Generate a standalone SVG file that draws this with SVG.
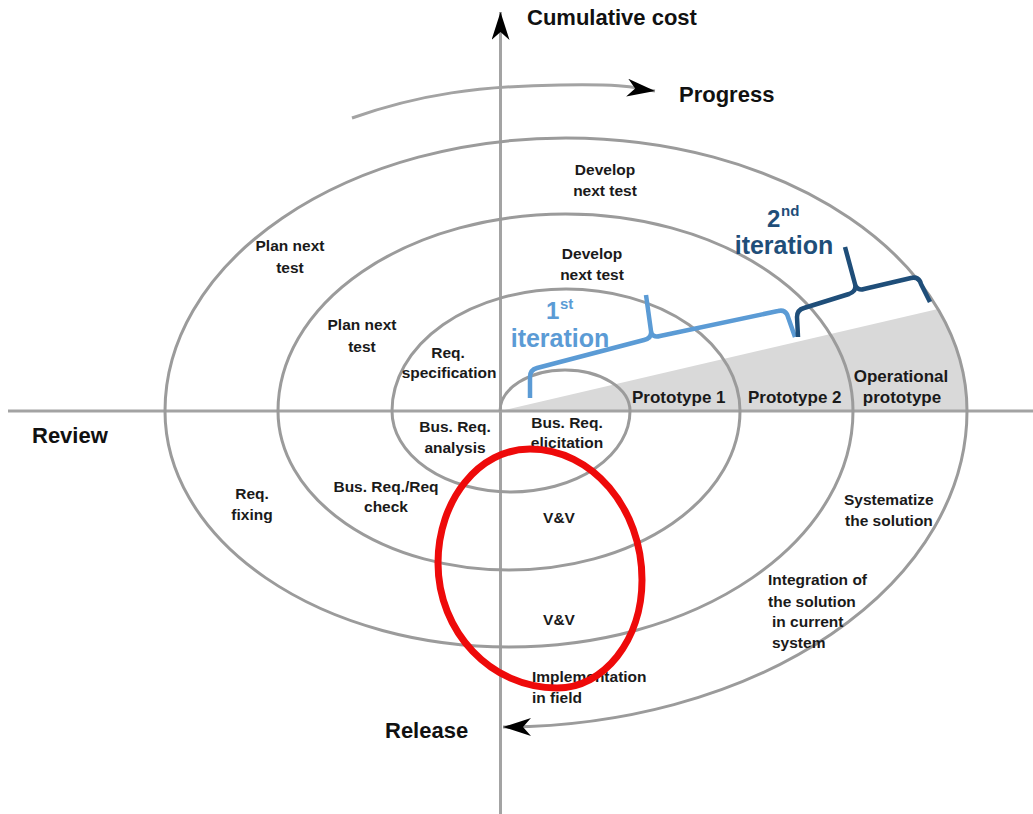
<svg xmlns="http://www.w3.org/2000/svg" width="1033" height="814" viewBox="0 0 1033 814">
<defs>
<marker id="ah" markerUnits="userSpaceOnUse" markerWidth="30" markerHeight="20" refX="28" refY="9" orient="auto">
<path d="M0,0 L28,9 L0,18 L8,9 Z" fill="#000"/>
</marker>
<style>
.ln{fill:none;stroke:#9b9b9b;stroke-width:3}
.ax{fill:none;stroke:#a3a3a3;stroke-width:3}
.t{font-family:"Liberation Sans",Arial,sans-serif;font-weight:bold;font-size:15.5px;fill:#1a1a1a;text-anchor:middle}
.s{text-anchor:start}
.big{font-size:22px;fill:#111}
.pr{font-size:17px}
.b1{fill:none;stroke:#5b9bd5;stroke-width:4.5;stroke-linejoin:round}
.b2{fill:none;stroke:#1f4e79;stroke-width:4.5;stroke-linejoin:round}
.i1{fill:#5b9bd5;font-size:25px}
.i2{fill:#1f4e79;font-size:25px}
.dg{font-size:24px}
.sup{font-size:15px}
</style>
</defs>
<rect width="1033" height="814" fill="#fff"/>
<g id="wedge">
<path d="M500,411 L938,309 A401,273 0 0,1 967,411 Z" fill="#d9d9d9"/>
</g>
<g id="connectors">
<line class="ax" x1="8" y1="411" x2="1033" y2="411"/>
<line class="ax" x1="500.5" y1="814" x2="500.5" y2="12" marker-end="url(#ah)"/>
<path class="ax" d="M352,118 C420,94 480,86 560,85 S630,88 655,91" marker-end="url(#ah)"/>
<path id="spiral" class="ln" d="M500,411 A65,41 0 0,1 630,411 A119,81 0 0,1 392,411 A174,122 0 0,1 740,411 A231,159 0 0,1 278,411 A287.5,197 0 0,1 853,411 A344,236 0 0,1 165,411 A401,273 0 0,1 967,411 A465,316 0 0,1 503,727" marker-end="url(#ah)"/>
</g>
<g id="bracket1">
<path class="b1" d="M530,398 L530,377 Q530,370 537,368 L644,340 Q652,338 651,331 L646,295 M651,331 Q652,338 660,336 L778,311 Q786,309 788,317 L795,337"/>
<text class="t i1 dg s" x="546" y="319">1</text>
<text class="t i1 s sup" x="560" y="309">st</text>
<text class="t i1" x="560" y="347">iteration</text>
</g>
<g id="bracket2">
<path class="b2" d="M798,337 L797,317 Q797,310 804,308 L849,294 Q857,291 855,284 L845,247 M855,284 Q857,291 864,289 L911,278 Q919,276 921,284 L930,302"/>
<text class="t i2 dg s" x="767" y="227">2</text>
<text class="t i2 s sup" x="781" y="216">nd</text>
<text class="t i2" x="784" y="254">iteration</text>
</g>
<g id="axis-labels">
<text class="t big s" x="527" y="25">Cumulative cost</text>
<text class="t big s" x="679" y="102">Progress</text>
<text class="t big s" x="32" y="443">Review</text>
<text class="t big s" x="385" y="738">Release</text>
</g>
<g id="develop-outer"><text class="t" x="605" y="175">Develop</text><text class="t" x="605" y="196">next test</text></g>
<g id="develop-inner"><text class="t" x="592" y="259">Develop</text><text class="t" x="592" y="280">next test</text></g>
<g id="plan-outer"><text class="t" x="290" y="251">Plan next</text><text class="t" x="290" y="273">test</text></g>
<g id="plan-inner"><text class="t" x="362" y="330">Plan next</text><text class="t" x="362" y="352">test</text></g>
<g id="req-spec"><text class="t" x="448" y="358">Req.</text><text class="t" x="449" y="378">specification</text></g>
<g id="bus-analysis"><text class="t" x="455" y="432">Bus. Req.</text><text class="t" x="455" y="453">analysis</text></g>
<g id="bus-elicitation"><text class="t" x="567" y="428">Bus. Req.</text><text class="t" x="567" y="448">elicitation</text></g>
<g id="req-fixing"><text class="t" x="252" y="499">Req.</text><text class="t" x="252" y="520">fixing</text></g>
<g id="req-check"><text class="t" x="386" y="492">Bus. Req./Req</text><text class="t" x="386" y="512">check</text></g>
<g id="vv1"><text class="t" x="559" y="523">V&amp;V</text></g>
<g id="vv2"><text class="t" x="559" y="625">V&amp;V</text></g>
<g id="implementation"><text class="t s" x="532" y="682">Implementation</text><text class="t s" x="532" y="703">in field</text></g>
<g id="systematize"><text class="t s" x="844" y="505">Systematize</text><text class="t s" x="845" y="526">the solution</text></g>
<g id="integration"><text class="t s" x="768" y="585">Integration of</text><text class="t s" x="768" y="607">the solution</text><text class="t s" x="772" y="627">in current</text><text class="t s" x="772" y="648">system</text></g>
<g id="prototype1"><text class="t pr s" x="632" y="403">Prototype 1</text></g>
<g id="prototype2"><text class="t pr s" x="748" y="403">Prototype 2</text></g>
<g id="operational"><text class="t pr" x="901" y="382">Operational</text><text class="t pr" x="902" y="403">prototype</text></g>
<g id="highlight">
<path d="M530,449 C592,449 642,508 642,580 C642,640 604,688 557,688 C491,688 438,632 438,563 C438,500 479,449 530,449 Z" fill="none" stroke="#ee0a0a" stroke-width="7"/>
</g>
</svg>
